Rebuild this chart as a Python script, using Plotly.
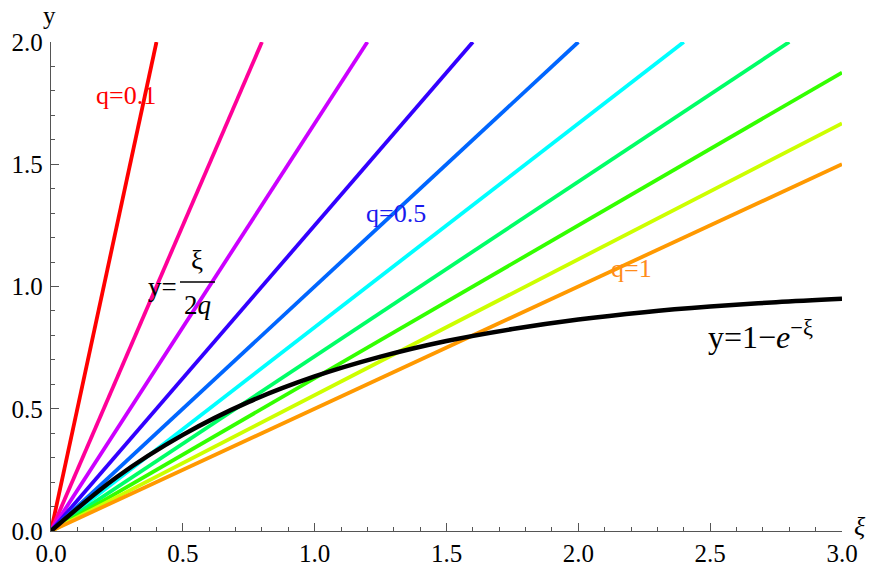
import plotly.graph_objects as go

# Data
q_values = [0.1, 0.2, 0.3, 0.4, 0.5, 0.6, 0.7, 0.8, 0.9, 1.0]
line_x_end = [0.4, 0.8, 1.2, 1.6, 2.0, 2.4, 2.8, 3.0, 3.0, 3.0]
line_y_end = [2.0, 2.0, 2.0, 2.0, 2.0, 2.0, 2.0, 1.875, 1.667, 1.5]
line_colors = ["#ff0000", "#ff0099", "#cc00ff", "#3300ff", "#0066ff",
               "#00ffff", "#00ff66", "#33ff00", "#ccff00", "#ff9900"]

curve_x = [0.0, 0.25, 0.5, 0.75, 1.0, 1.25, 1.5, 1.75, 2.0, 2.25, 2.5, 2.75, 3.0]
curve_y = [0.0, 0.221, 0.393, 0.528, 0.632, 0.713, 0.777, 0.826, 0.865, 0.895, 0.918, 0.936, 0.950]

x_ticks = [0.0, 0.5, 1.0, 1.5, 2.0, 2.5, 3.0]
y_ticks = [0.0, 0.5, 1.0, 1.5, 2.0]

FONT = "Liberation Serif"

W, H = 875, 570
ML, MR, MT, MB = 51, 33, 42, 39
pw, ph = W - ML - MR, H - MT - MB


def px(x):
    return (x - ML) / pw


def py(y):
    return (H - y - MB) / ph


fig = go.Figure()
for q, xe, ye, c in zip(q_values, line_x_end, line_y_end, line_colors):
    fig.add_trace(go.Scatter(x=[0, xe], y=[0, ye], mode="lines",
                             line=dict(color=c, width=3.8), name=f"q={q}",
                             showlegend=False, hoverinfo="skip"))

fig.add_trace(go.Scatter(x=curve_x, y=curve_y, mode="lines",
                         line=dict(color="black", width=4.5, shape="spline"),
                         showlegend=False, hoverinfo="skip"))

axis_common = dict(
    showgrid=False, zeroline=False, showline=True, linecolor="#555555", linewidth=1.3,
    ticks="inside", ticklen=8, tickwidth=1.2, tickcolor="#555555",
    tickfont=dict(family=FONT, size=25, color="black"), automargin=False,
    minor=dict(ticks="inside", ticklen=4, tickwidth=1, tickcolor="#555555", dtick=0.1),
)

fig.update_xaxes(range=[0, 3], tickvals=x_ticks, ticktext=[f"{v:.1f}" for v in x_ticks],
                 **axis_common)
fig.update_yaxes(range=[0, 2], tickvals=y_ticks, ticktext=[f"{v:.1f}" for v in y_ticks],
                 ticklabelstandoff=2, **axis_common)

data_labels = [
    (0.285, 1.78, "q=0.1", "#ff0000"),
    (1.31, 1.30, "q=0.5", "#1a1aee"),
    (2.2, 1.075, "q=1", "#ff8c1a"),
]
for x, y, t, c in data_labels:
    fig.add_annotation(x=x, y=y, xref="x", yref="y", text=t, showarrow=False,
                       xanchor="center", yanchor="middle",
                       font=dict(family=FONT, size=26, color=c))

paper_labels = [
    (162, 287, "y=", 27),
    (197, 260, "ξ", 27),
    (197, 305, "2<i>q</i>", 27),
    (760, 335, "y=1−<i>e</i><sup>−ξ</sup>", 32),
    (49, 16, "y", 25),
    (860, 526, "<i>ξ</i>", 26),
]
for x, y, t, s in paper_labels:
    fig.add_annotation(x=px(x), y=py(y), xref="paper", yref="paper", text=t,
                       xanchor="center", yanchor="middle",
                       showarrow=False, font=dict(family=FONT, size=s, color="black"))

fig.add_shape(type="line", xref="paper", yref="paper",
              x0=px(180), x1=px(215), y0=py(282), y1=py(282),
              line=dict(color="black", width=1.3))

fig.update_layout(
    width=W, height=H,
    margin=dict(l=ML, r=MR, t=MT, b=MB),
    plot_bgcolor="white", paper_bgcolor="white",
    font=dict(family=FONT),
)
fig.write_html("out.html", config={"displayModeBar": False},
               post_script="document.body.style.margin='0px';document.body.style.overflow='hidden';")
